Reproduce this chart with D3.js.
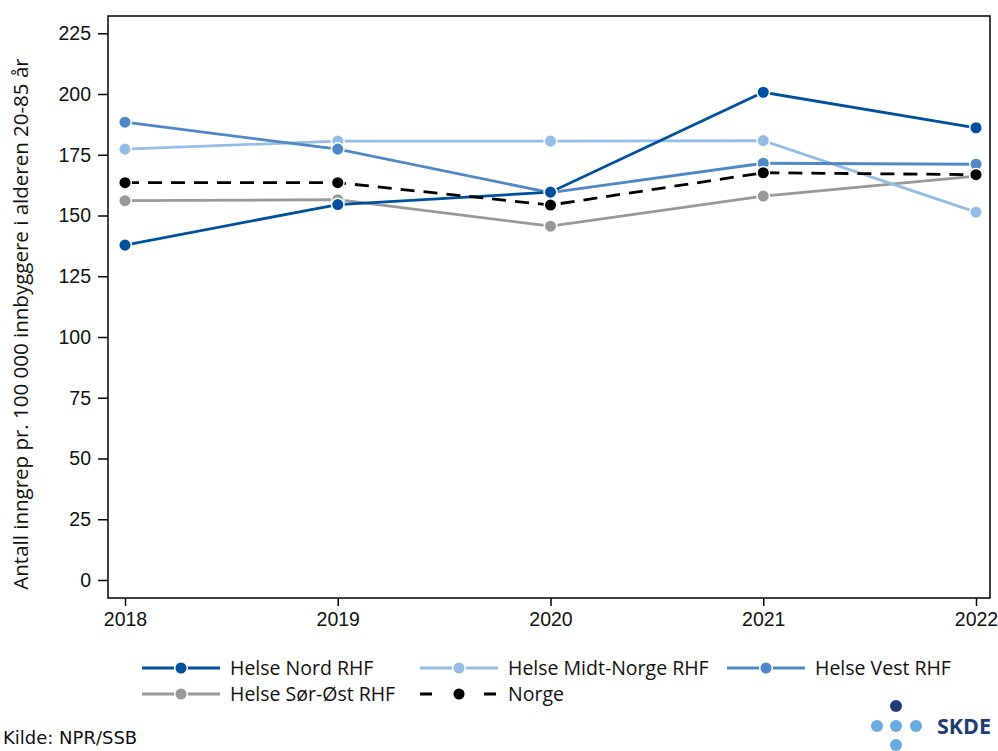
<!DOCTYPE html>
<html><head><meta charset="utf-8">
<script src="https://cdn.jsdelivr.net/npm/d3@7"></script>
<style>body{margin:0;background:#fff}svg{display:block;font-family:"Open Sans","Noto Sans",sans-serif}</style>
</head><body><svg id="c" width="998" height="751"></svg>
<script>
const years = [2018, 2019, 2020, 2021, 2022];
const seriesNames = ["Helse Nord RHF", "Helse Midt-Norge RHF", "Helse Vest RHF", "Helse Sør-Øst RHF", "Norge"];
const helseNord = [137.8, 154.5, 159.6, 200.7, 186.1];
const helseMidt = [177.3, 180.6, 180.6, 180.8, 151.4];
const helseVest = [188.4, 177.3, 159.4, 171.5, 171.1];
const helseSorOst = [156.1, 156.5, 145.6, 158.0, 166.2];
const norge = [163.5, 163.5, 154.3, 167.6, 166.8];
const yTicks = [0, 25, 50, 75, 100, 125, 150, 175, 200, 225];
const colors = ["#00509E", "#95BDE6", "#4F88C4", "#999999", "#000000"];

const series = [helseNord, helseMidt, helseVest, helseSorOst, norge];
const svg = d3.select("#c");
const L = 108, R = 990, T = 16, B = 598;
const x = d3.scalePoint().domain(years).range([125, 976]);
const y = d3.scaleLinear().domain([0, 225]).range([580, 33.25]);

svg.append("rect").attr("x", L).attr("y", T).attr("width", R - L).attr("height", B - T)
  .attr("fill", "none").attr("stroke", "#000").attr("stroke-width", 1.5);

const ya = svg.append("g").attr("transform", `translate(${L},0)`)
  .call(d3.axisLeft(y).tickValues(yTicks).tickSize(10).tickPadding(7));
ya.select(".domain").remove();
ya.selectAll("line").attr("stroke-width", 1.5);
ya.selectAll("text").attr("font-size", 19.5).attr("fill", "#111");

const xa = svg.append("g").attr("transform", `translate(0,${B})`)
  .call(d3.axisBottom(x).tickFormat(d3.format("d")).tickSize(8).tickPadding(6));
xa.select(".domain").remove();
xa.selectAll("line").attr("stroke-width", 1.5);
xa.selectAll("text").attr("font-size", 19.5).attr("fill", "#111");

svg.append("text").attr("transform", "translate(28,324) rotate(-90)")
  .attr("text-anchor", "middle").attr("font-size", 20.5).attr("fill", "#111")
  .text("Antall inngrep pr. 100 000 innbyggere i alderen 20-85 år");

const line = d3.line().x((d, i) => x(years[i])).y(d => y(d));
const order = [3, 1, 2, 0, 4];
order.forEach(k => {
  svg.append("path").attr("d", line(series[k])).attr("fill", "none")
    .attr("stroke", colors[k]).attr("stroke-width", 2.8)
    .attr("stroke-dasharray", k === 4 ? "14,9" : null);
});
order.forEach(k => {
  svg.append("g").selectAll("circle").data(series[k]).join("circle")
    .attr("cx", (d, i) => x(years[i])).attr("cy", d => y(d)).attr("r", 6.3)
    .attr("fill", colors[k]).attr("stroke", "#fff").attr("stroke-width", 1.5);
});

const legPos = [[142, 668], [420, 668], [727, 668], [142, 694], [420, 694]];
seriesNames.forEach((name, k) => {
  const [lx, ly] = legPos[k];
  const g = svg.append("g");
  g.append("line").attr("x1", lx).attr("x2", lx + 78).attr("y1", ly).attr("y2", ly)
    .attr("stroke", colors[k]).attr("stroke-width", 2.8)
    .attr("stroke-dasharray", k === 4 ? "12,20" : null);
  g.append("circle").attr("cx", lx + 39).attr("cy", ly).attr("r", 6.3)
    .attr("fill", colors[k]).attr("stroke", "#fff").attr("stroke-width", 1.5);
  g.append("text").attr("x", lx + 88).attr("y", ly + 7).attr("font-size", 19.5)
    .attr("fill", "#111").text(name);
});

svg.append("text").attr("x", 3).attr("y", 744).attr("font-size", 18)
  .attr("font-family", "DejaVu Sans").attr("fill", "#111").text("Kilde: NPR/SSB");

const logo = svg.append("g");
logo.append("circle").attr("cx", 896).attr("cy", 706).attr("r", 6).attr("fill", "#1F3D73");
[877, 896, 916].forEach(cx => logo.append("circle").attr("cx", cx).attr("cy", 726).attr("r", 6).attr("fill", "#6AAAE0"));
logo.append("circle").attr("cx", 896).attr("cy", 745).attr("r", 6).attr("fill", "#6AAAE0");
logo.append("text").attr("x", 937).attr("y", 734).attr("font-size", 21.5).attr("font-weight", "bold")
  .attr("font-family", "Open Sans")
  .attr("fill", "#1F3D73").text("SKDE");
</script></body></html>
